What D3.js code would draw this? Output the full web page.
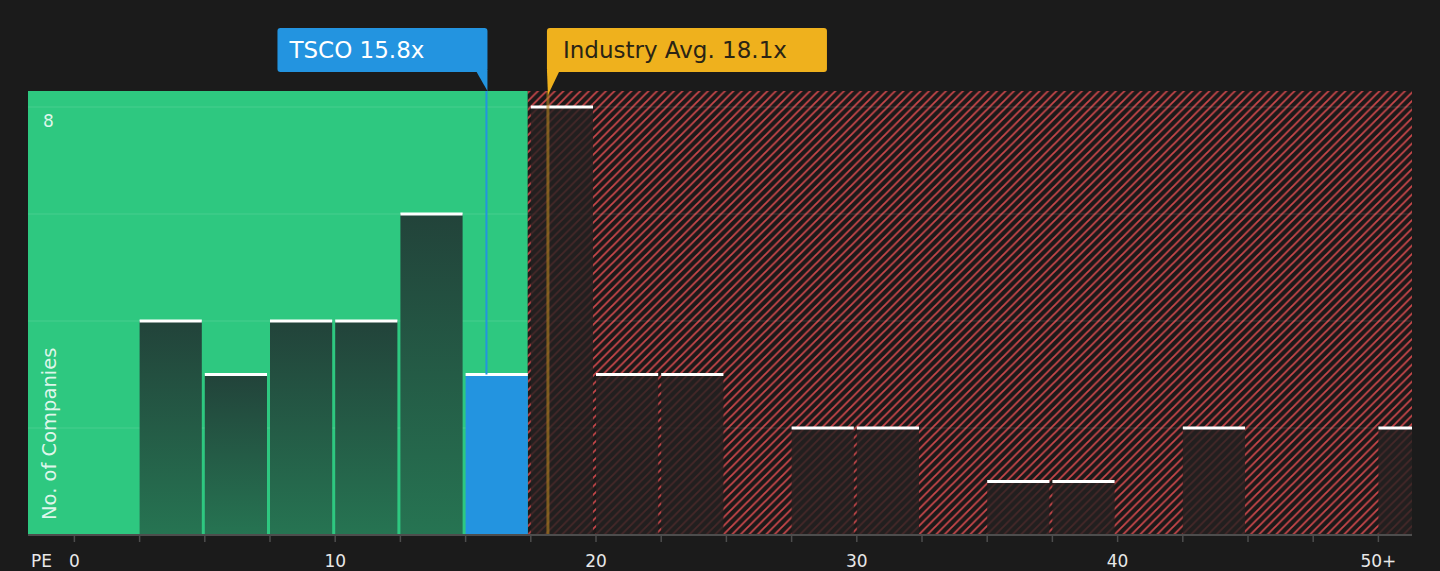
<!DOCTYPE html>
<html>
<head>
<meta charset="utf-8">
<title>PE distribution</title>
<script src="https://cdn.jsdelivr.net/npm/d3@7"></script>
<style>
  html, body { margin:0; padding:0; background:#1b1b1b; }
  svg { display:block; font-family:"DejaVu Sans", sans-serif; }
</style>
</head>
<body>
<svg></svg>
<script>
// bins of 2.5x PE, last one is 50+
var binStarts = [0, 2.5, 5, 7.5, 10, 12.5, 15, 17.5, 20, 22.5, 25, 27.5, 30, 32.5, 35, 37.5, 40, 42.5, 45, 47.5, 50];
var counts    = [0, 4,   3, 4,   4,  6,    3,  8,    3,  3,    0,  2,    2,  0,    1,  1,    0,  2,    0,  0,    2];
var tickValues = [0, 2.5, 5, 7.5, 10, 12.5, 15, 17.5, 20, 22.5, 25, 27.5, 30, 32.5, 35, 37.5, 40, 42.5, 45, 47.5, 50];
var tickLabels = {0:"0", 10:"10", 20:"20", 30:"30", 40:"40", 50:"50+"};
var gridValues = [2, 4, 6, 8];
var binWidth = 2.5;
var companyPE = 15.8, companyName = "TSCO";
var industryPE = 18.1;
var greenUpTo = 17.5;

var width = 1440, height = 571;
var plotLeft = 28, plotRight = 1412, plotTop = 91, plotBottom = 535;
var gap = 3;

var svg = d3.select("svg").attr("width", width).attr("height", height);

var x = d3.scaleLinear().domain([0, 50]).range([74.4, 1378.4]);
var y = d3.scaleLinear().domain([0, 8]).range([plotBottom, 107]);

var defs = svg.append("defs");
var hs = 8.5;
var hatch = defs.append("pattern")
  .attr("id", "hatch")
  .attr("patternUnits", "userSpaceOnUse")
  .attr("width", hs).attr("height", hs);
hatch.append("rect").attr("width", hs).attr("height", hs).attr("fill", "#1c1919");
hatch.append("path")
  .attr("d", "M-1,1 L1,-1 M0," + hs + " L" + hs + ",0 M" + (hs - 1) + "," + (hs + 1) + " L" + (hs + 1) + "," + (hs - 1))
  .attr("stroke", "#c8474a").attr("stroke-width", 1.8);

var grad = defs.append("linearGradient")
  .attr("id", "barGrad").attr("x1", 0).attr("y1", 0).attr("x2", 0).attr("y2", 1);
grad.append("stop").attr("offset", "0%").attr("stop-color", "#22433a");
grad.append("stop").attr("offset", "100%").attr("stop-color", "#267452");

var splitX = x(greenUpTo) - gap;

// backgrounds
svg.append("rect")
  .attr("x", plotLeft).attr("y", plotTop)
  .attr("width", splitX - plotLeft).attr("height", plotBottom - plotTop)
  .attr("fill", "#2ec880");
svg.append("rect")
  .attr("x", splitX).attr("y", plotTop)
  .attr("width", plotRight - splitX).attr("height", plotBottom - plotTop)
  .attr("fill", "url(#hatch)");

// grid
svg.append("g").selectAll("line")
  .data(gridValues)
  .enter().append("line")
  .attr("x1", plotLeft).attr("x2", plotRight)
  .attr("y1", function(d){ return y(d); })
  .attr("y2", function(d){ return y(d); })
  .attr("stroke", "#ffffff").attr("stroke-opacity", 0.12).attr("stroke-width", 1);

// bars
var bars = binStarts.map(function(b, i){ return {start:b, count:counts[i]}; })
  .filter(function(d){ return d.count > 0; });

function barX(d){ return x(d.start); }
function barW(d){ return Math.min(x(d.start + binWidth) - gap, plotRight) - x(d.start); }

svg.append("g").selectAll("rect")
  .data(bars)
  .enter().append("rect")
  .attr("x", barX)
  .attr("y", function(d){ return y(d.count); })
  .attr("width", barW)
  .attr("height", function(d){ return plotBottom - y(d.count); })
  .attr("fill", function(d){
    if (companyPE >= d.start && companyPE < d.start + binWidth) return "#2394e0";
    if (d.start + binWidth <= greenUpTo) return "url(#barGrad)";
    return "#242020";
  })
  .attr("fill-opacity", function(d){
    return d.start + binWidth > greenUpTo ? 0.8 : 1;
  });

svg.append("g").selectAll("rect")
  .data(bars)
  .enter().append("rect")
  .attr("x", barX)
  .attr("y", function(d){ return y(d.count) - 1.5; })
  .attr("width", barW)
  .attr("height", 3)
  .attr("fill", "#ffffff");

// industry average line
svg.append("line")
  .attr("x1", x(industryPE) + 1.5).attr("x2", x(industryPE) + 1.5)
  .attr("y1", plotTop).attr("y2", plotBottom)
  .attr("stroke", "#b8861f").attr("stroke-opacity", 0.6).attr("stroke-width", 3);

// company line
svg.append("line")
  .attr("x1", x(companyPE)).attr("x2", x(companyPE))
  .attr("y1", plotTop).attr("y2", y(3))
  .attr("stroke", "#2394e0").attr("stroke-width", 2);

// x axis
var axis = svg.append("g").attr("transform", "translate(0," + plotBottom + ")");
axis.append("line").attr("x1", plotLeft).attr("x2", plotRight)
  .attr("stroke", "#4d4d4d").attr("stroke-width", 2);
axis.selectAll(".tk").data(tickValues).enter().append("line")
  .attr("class", "tk")
  .attr("x1", function(d){ return x(d); }).attr("x2", function(d){ return x(d); })
  .attr("y1", 0).attr("y2", 7)
  .attr("stroke", "#4d4d4d").attr("stroke-width", 1.5);
axis.selectAll("text").data(tickValues.filter(function(d){ return tickLabels[d]; }))
  .enter().append("text")
  .attr("x", function(d){ return x(d); })
  .attr("y", 32)
  .attr("text-anchor", "middle")
  .attr("fill", "#e8e8e8")
  .attr("font-size", 17)
  .text(function(d){ return tickLabels[d]; });
svg.append("text")
  .attr("x", 31).attr("y", plotBottom + 32)
  .attr("fill", "#e8e8e8").attr("font-size", 17)
  .text("PE");

// y labels
svg.append("text")
  .attr("x", 43).attr("y", y(8) + 20)
  .attr("fill", "#ffffff").attr("fill-opacity", 0.85)
  .attr("font-size", 17)
  .text("8");
svg.append("text")
  .attr("transform", "translate(56,520) rotate(-90)")
  .attr("fill", "#ffffff").attr("fill-opacity", 0.85)
  .attr("font-size", 19.5)
  .text("No. of Companies");

// callouts
var cx = x(companyPE);
svg.append("path")
  .attr("d", "M" + (cx - 11) + ",70 L" + (cx + 1) + ",70 L" + (cx + 1) + "," + plotTop + " Z")
  .attr("fill", "#2394e0");
svg.append("rect")
  .attr("x", cx + 1 - 210).attr("y", 28).attr("width", 210).attr("height", 44).attr("rx", 3)
  .attr("fill", "#2394e0");
svg.append("text")
  .attr("x", cx + 1 - 198).attr("y", 58)
  .attr("fill", "#ffffff").attr("font-size", 23)
  .text(companyName + " " + companyPE.toFixed(1) + "x");

var ix = x(industryPE) + 1.5;
svg.append("path")
  .attr("d", "M" + (ix - 1) + ",70 L" + (ix + 12) + ",70 L" + ix + "," + (plotTop + 4) + " Z")
  .attr("fill", "#efb11d");
svg.append("rect")
  .attr("x", ix - 1).attr("y", 28).attr("width", 280).attr("height", 44).attr("rx", 3)
  .attr("fill", "#efb11d");
svg.append("text")
  .attr("x", ix + 15).attr("y", 58)
  .attr("fill", "#2a2415").attr("font-size", 23)
  .text("Industry Avg. " + industryPE.toFixed(1) + "x");
</script>
</body>
</html>
